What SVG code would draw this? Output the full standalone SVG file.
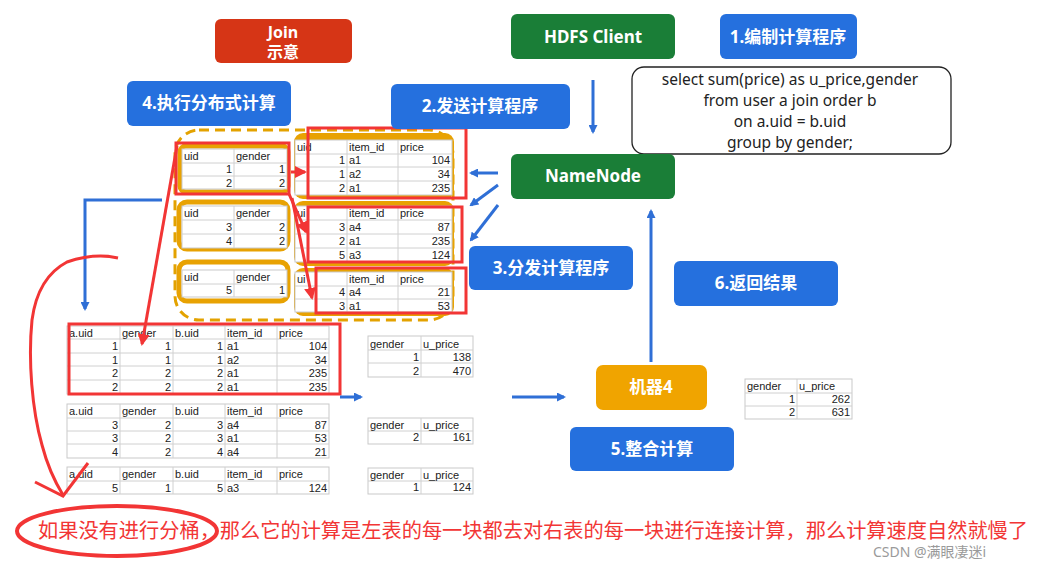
<svg xmlns="http://www.w3.org/2000/svg" width="1038" height="566" viewBox="0 0 1038 566">
<style>
.box{stroke:none}
.blue{fill:#2570de}
.green{fill:#1a7e37}
.bt{font-family:"Noto Sans","Noto Sans CJK SC",sans-serif;font-size:17px;font-weight:bold;fill:#fff;text-anchor:middle}
.tb{fill:#fff;stroke:#c9c9c9;stroke-width:1}
.tl{stroke:#d0d0d0;stroke-width:1}
.t{font-family:"Liberation Sans","Noto Sans CJK SC",sans-serif;font-size:11px;fill:#222}
.r{text-anchor:end}
.ob{fill:#fff;stroke:#e8a202;stroke-width:5}
.of{fill:#e8a202}
.redbox{fill:none;stroke:#f23535;stroke-width:3}
.barrow{stroke:#2f6fd6;stroke-width:3;fill:none}
.rarrow{stroke:#f23535;stroke-width:3;fill:none}
.sql{font-family:"Noto Sans","Liberation Sans",sans-serif;font-size:15.5px;fill:#222;text-anchor:middle}
</style>
<defs>
<marker id="ab" markerWidth="9" markerHeight="9" refX="7" refY="4.5" orient="auto" markerUnits="userSpaceOnUse" viewBox="0 0 9 9"><path d="M0,0 L9,4.5 L0,9 z" fill="#2f6fd6"/></marker>
<marker id="ar" markerWidth="12" markerHeight="12" refX="10" refY="6" orient="auto" markerUnits="userSpaceOnUse" viewBox="0 0 12 12"><path d="M0,0 L12,6 L0,12 z" fill="#f23535"/></marker>
</defs>
<rect width="1038" height="566" fill="#fff"/>

<!-- dashed group -->
<rect x="175" y="130" width="278" height="190" rx="24" fill="none" stroke="#e3a200" stroke-width="3" stroke-dasharray="10,6"/>

<!-- user tables -->
<g id="user1">
<rect class="ob" x="180" y="146" width="108" height="46" rx="6"/>
<rect class="tb" x="182" y="149" width="105" height="40"/>
<line class="tl" x1="182" y1="163" x2="287" y2="163"/><line class="tl" x1="182" y1="176" x2="287" y2="176"/><line class="tl" x1="234" y1="149" x2="234" y2="189"/>
<text class="t" x="184" y="160">uid</text><text class="t" x="236" y="160">gender</text>
<text class="t r" x="232" y="173">1</text><text class="t r" x="285" y="173">1</text>
<text class="t r" x="232" y="187">2</text><text class="t r" x="285" y="187">2</text>
</g>
<g id="user2">
<rect class="ob" x="179" y="202" width="109" height="47" rx="8"/>
<rect class="tb" x="182" y="206" width="105" height="42"/>
<line class="tl" x1="182" y1="220" x2="287" y2="220"/><line class="tl" x1="182" y1="234" x2="287" y2="234"/><line class="tl" x1="234" y1="206" x2="234" y2="248"/>
<text class="t" x="184" y="217">uid</text><text class="t" x="236" y="217">gender</text>
<text class="t r" x="232" y="231">3</text><text class="t r" x="285" y="231">2</text>
<text class="t r" x="232" y="245">4</text><text class="t r" x="285" y="245">2</text>
</g>
<g id="user3">
<rect class="ob" x="179" y="262" width="109" height="39" rx="8"/>
<rect class="tb" x="182" y="270" width="105" height="27"/>
<line class="tl" x1="182" y1="284" x2="287" y2="284"/><line class="tl" x1="234" y1="270" x2="234" y2="297"/>
<text class="t" x="184" y="281">uid</text><text class="t" x="236" y="281">gender</text>
<text class="t r" x="232" y="294">5</text><text class="t r" x="285" y="294">1</text>
</g>

<!-- order tables -->
<g id="order1">
<rect class="of" x="294" y="133" width="160" height="66" rx="9"/>
<rect class="tb" x="295" y="140" width="157" height="55"/>
<line class="tl" x1="295" y1="154" x2="452" y2="154"/><line class="tl" x1="295" y1="167" x2="452" y2="167"/><line class="tl" x1="295" y1="181" x2="452" y2="181"/>
<line class="tl" x1="347" y1="140" x2="347" y2="195"/><line class="tl" x1="398" y1="140" x2="398" y2="195"/>
<text class="t" x="297" y="151">uid</text><text class="t" x="349" y="151">item_id</text><text class="t" x="400" y="151">price</text>
<text class="t r" x="345" y="164">1</text><text class="t" x="349" y="164">a1</text><text class="t r" x="450" y="164">104</text>
<text class="t r" x="345" y="178">1</text><text class="t" x="349" y="178">a2</text><text class="t r" x="450" y="178">34</text>
<text class="t r" x="345" y="192">2</text><text class="t" x="349" y="192">a1</text><text class="t r" x="450" y="192">235</text>
</g>
<g id="order2">
<rect class="of" x="294" y="201" width="160" height="65" rx="9"/>
<rect class="tb" x="295" y="206" width="157" height="56"/>
<line class="tl" x1="295" y1="220" x2="452" y2="220"/><line class="tl" x1="295" y1="234" x2="452" y2="234"/><line class="tl" x1="295" y1="248" x2="452" y2="248"/>
<line class="tl" x1="347" y1="206" x2="347" y2="262"/><line class="tl" x1="398" y1="206" x2="398" y2="262"/>
<text class="t" x="297" y="217">ui</text><text class="t" x="349" y="217">item_id</text><text class="t" x="400" y="217">price</text>
<text class="t r" x="345" y="231">3</text><text class="t" x="349" y="231">a4</text><text class="t r" x="450" y="231">87</text>
<text class="t r" x="345" y="245">2</text><text class="t" x="349" y="245">a1</text><text class="t r" x="450" y="245">235</text>
<text class="t r" x="345" y="259">5</text><text class="t" x="349" y="259">a3</text><text class="t r" x="450" y="259">124</text>
</g>
<g id="order3">
<rect class="of" x="294" y="268" width="160" height="48" rx="9"/>
<rect class="tb" x="295" y="272" width="157" height="40"/>
<line class="tl" x1="295" y1="286" x2="452" y2="286"/><line class="tl" x1="295" y1="299" x2="452" y2="299"/>
<line class="tl" x1="347" y1="272" x2="347" y2="312"/><line class="tl" x1="398" y1="272" x2="398" y2="312"/>
<text class="t" x="297" y="283">ui</text><text class="t" x="349" y="283">item_id</text><text class="t" x="400" y="283">price</text>
<text class="t r" x="345" y="296">4</text><text class="t" x="349" y="296">a4</text><text class="t r" x="450" y="296">21</text>
<text class="t r" x="345" y="310">3</text><text class="t" x="349" y="310">a1</text><text class="t r" x="450" y="310">53</text>
</g>

<!-- joined tables -->
<g id="joinA">
<rect class="tb" x="67" y="326" width="262" height="68"/>
<line class="tl" x1="67" y1="339" x2="329" y2="339"/><line class="tl" x1="67" y1="353" x2="329" y2="353"/><line class="tl" x1="67" y1="366" x2="329" y2="366"/><line class="tl" x1="67" y1="380" x2="329" y2="380"/>
<line class="tl" x1="120" y1="326" x2="120" y2="394"/><line class="tl" x1="173" y1="326" x2="173" y2="394"/><line class="tl" x1="225" y1="326" x2="225" y2="394"/><line class="tl" x1="277" y1="326" x2="277" y2="394"/>
<text class="t" x="69" y="337">a.uid</text><text class="t" x="122" y="337">gender</text><text class="t" x="175" y="337">b.uid</text><text class="t" x="227" y="337">item_id</text><text class="t" x="279" y="337">price</text>
<text class="t r" x="118" y="350">1</text><text class="t r" x="171" y="350">1</text><text class="t r" x="223" y="350">1</text><text class="t" x="227" y="350">a1</text><text class="t r" x="327" y="350">104</text>
<text class="t r" x="118" y="364">1</text><text class="t r" x="171" y="364">1</text><text class="t r" x="223" y="364">1</text><text class="t" x="227" y="364">a2</text><text class="t r" x="327" y="364">34</text>
<text class="t r" x="118" y="377">2</text><text class="t r" x="171" y="377">2</text><text class="t r" x="223" y="377">2</text><text class="t" x="227" y="377">a1</text><text class="t r" x="327" y="377">235</text>
<text class="t r" x="118" y="391">2</text><text class="t r" x="171" y="391">2</text><text class="t r" x="223" y="391">2</text><text class="t" x="227" y="391">a1</text><text class="t r" x="327" y="391">235</text>
</g>
<g id="joinB">
<rect class="tb" x="67" y="404" width="262" height="54"/>
<line class="tl" x1="67" y1="418" x2="329" y2="418"/><line class="tl" x1="67" y1="431" x2="329" y2="431"/><line class="tl" x1="67" y1="444" x2="329" y2="444"/>
<line class="tl" x1="120" y1="404" x2="120" y2="458"/><line class="tl" x1="173" y1="404" x2="173" y2="458"/><line class="tl" x1="225" y1="404" x2="225" y2="458"/><line class="tl" x1="277" y1="404" x2="277" y2="458"/>
<text class="t" x="69" y="415">a.uid</text><text class="t" x="122" y="415">gender</text><text class="t" x="175" y="415">b.uid</text><text class="t" x="227" y="415">item_id</text><text class="t" x="279" y="415">price</text>
<text class="t r" x="118" y="429">3</text><text class="t r" x="171" y="429">2</text><text class="t r" x="223" y="429">3</text><text class="t" x="227" y="429">a4</text><text class="t r" x="327" y="429">87</text>
<text class="t r" x="118" y="442">3</text><text class="t r" x="171" y="442">2</text><text class="t r" x="223" y="442">3</text><text class="t" x="227" y="442">a1</text><text class="t r" x="327" y="442">53</text>
<text class="t r" x="118" y="456">4</text><text class="t r" x="171" y="456">2</text><text class="t r" x="223" y="456">4</text><text class="t" x="227" y="456">a4</text><text class="t r" x="327" y="456">21</text>
</g>
<g id="joinC">
<rect class="tb" x="67" y="467" width="262" height="27"/>
<line class="tl" x1="67" y1="481" x2="329" y2="481"/>
<line class="tl" x1="120" y1="467" x2="120" y2="494"/><line class="tl" x1="173" y1="467" x2="173" y2="494"/><line class="tl" x1="225" y1="467" x2="225" y2="494"/><line class="tl" x1="277" y1="467" x2="277" y2="494"/>
<text class="t" x="69" y="478">a.uid</text><text class="t" x="122" y="478">gender</text><text class="t" x="175" y="478">b.uid</text><text class="t" x="227" y="478">item_id</text><text class="t" x="279" y="478">price</text>
<text class="t r" x="118" y="492">5</text><text class="t r" x="171" y="492">1</text><text class="t r" x="223" y="492">5</text><text class="t" x="227" y="492">a3</text><text class="t r" x="327" y="492">124</text>
</g>

<!-- gender sums -->
<g id="sum1">
<rect class="tb" x="368" y="336" width="105" height="41"/>
<line class="tl" x1="368" y1="350" x2="473" y2="350"/><line class="tl" x1="368" y1="363" x2="473" y2="363"/><line class="tl" x1="421" y1="336" x2="421" y2="377"/>
<text class="t" x="370" y="348">gender</text><text class="t" x="423" y="348">u_price</text>
<text class="t r" x="419" y="361">1</text><text class="t r" x="471" y="361">138</text>
<text class="t r" x="419" y="375">2</text><text class="t r" x="471" y="375">470</text>
</g>
<g id="sum2">
<rect class="tb" x="368" y="418" width="105" height="26"/>
<line class="tl" x1="368" y1="431" x2="473" y2="431"/><line class="tl" x1="421" y1="418" x2="421" y2="444"/>
<text class="t" x="370" y="429">gender</text><text class="t" x="423" y="429">u_price</text>
<text class="t r" x="419" y="441">2</text><text class="t r" x="471" y="441">161</text>
</g>
<g id="sum3">
<rect class="tb" x="368" y="468" width="105" height="26"/>
<line class="tl" x1="368" y1="481" x2="473" y2="481"/><line class="tl" x1="421" y1="468" x2="421" y2="494"/>
<text class="t" x="370" y="479">gender</text><text class="t" x="423" y="479">u_price</text>
<text class="t r" x="419" y="491">1</text><text class="t r" x="471" y="491">124</text>
</g>
<g id="result">
<rect class="tb" x="745" y="379" width="107" height="40"/>
<line class="tl" x1="745" y1="393" x2="852" y2="393"/><line class="tl" x1="745" y1="406" x2="852" y2="406"/><line class="tl" x1="797" y1="379" x2="797" y2="419"/>
<text class="t" x="747" y="390">gender</text><text class="t" x="799" y="390">u_price</text>
<text class="t r" x="795" y="403">1</text><text class="t r" x="850" y="403">262</text>
<text class="t r" x="795" y="416">2</text><text class="t r" x="850" y="416">631</text>
</g>

<!-- red highlight boxes -->
<g id="highlights">
<rect class="redbox" x="176" y="143" width="113" height="51"/>
<rect class="redbox" x="308" y="128" width="158" height="70"/>
<rect class="redbox" x="308" y="207" width="154" height="55"/>
<rect class="redbox" x="316" y="268" width="150" height="45"/>
<rect class="redbox" x="69" y="324" width="271" height="70"/>
</g>

<!-- nodes -->
<g id="join"><rect x="215" y="19" width="137" height="44" rx="6" fill="#d63516"/><text class="bt" x="283" y="38" style="font-size:16px">Join</text><text class="bt" x="283" y="58" style="font-size:16px">示意</text></g>
<g id="hdfs"><rect class="green" x="511" y="14" width="164" height="45" rx="6"/><text class="bt" x="593" y="43">HDFS Client</text></g>
<g id="step1"><rect class="blue" x="720" y="14" width="137" height="45" rx="6"/><text class="bt" x="788" y="43">1.编制计算程序</text></g>
<g id="sql"><rect x="632" y="67" width="319" height="87" rx="12" fill="#fff" stroke="#222" stroke-width="1.3"/>
<text class="sql" x="790" y="85">select sum(price) as u_price,gender</text>
<text class="sql" x="790" y="106">from user a join order b</text>
<text class="sql" x="790" y="127">on a.uid = b.uid</text>
<text class="sql" x="790" y="148">group by gender;</text></g>
<g id="step4"><rect class="blue" x="127" y="81" width="164" height="45" rx="6"/><text class="bt" x="209" y="109">4.执行分布式计算</text></g>
<g id="step2"><rect class="blue" x="391" y="84" width="179" height="45" rx="6"/><text class="bt" x="480" y="112">2.发送计算程序</text></g>
<g id="namenode"><rect class="green" x="511" y="154" width="164" height="45" rx="6"/><text class="bt" x="593" y="182">NameNode</text></g>
<g id="step3"><rect class="blue" x="469" y="246" width="164" height="44" rx="6"/><text class="bt" x="551" y="274">3.分发计算程序</text></g>
<g id="step6"><rect class="blue" x="674" y="261" width="164" height="45" rx="6"/><text class="bt" x="756" y="289">6.返回结果</text></g>
<g id="machine4"><rect x="596" y="365" width="111" height="45" rx="7" fill="#f0a400"/><text class="bt" x="651" y="393">机器4</text></g>
<g id="step5"><rect class="blue" x="570" y="427" width="164" height="44" rx="6"/><text class="bt" x="652" y="455">5.整合计算</text></g>

<!-- connectors -->
<g id="connectors">
<line class="barrow" x1="593" y1="80" x2="593" y2="132" marker-end="url(#ab)"/>
<line class="barrow" x1="498" y1="173" x2="471" y2="173" marker-end="url(#ab)"/>
<line class="barrow" x1="498" y1="185" x2="471" y2="205" marker-end="url(#ab)"/>
<line class="barrow" x1="498" y1="205" x2="471" y2="240" marker-end="url(#ab)"/>
<line class="barrow" x1="651" y1="362" x2="651" y2="211" marker-end="url(#ab)"/>
<line class="barrow" x1="512" y1="397" x2="564" y2="397" marker-end="url(#ab)"/>
<line class="barrow" x1="340" y1="397" x2="361" y2="397" marker-end="url(#ab)"/>
<polyline class="barrow" points="162,200 85,200 85,309" marker-end="url(#ab)"/>
<line class="rarrow" x1="291" y1="172" x2="305" y2="172" marker-end="url(#ar)"/>
<line class="rarrow" x1="289" y1="194" x2="306" y2="232" marker-end="url(#ar)"/>
<line class="rarrow" x1="292" y1="198" x2="312" y2="298" marker-end="url(#ar)"/>
<line class="rarrow" x1="177" y1="146" x2="142" y2="344" marker-end="url(#ar)"/>
<path class="rarrow" d="M118,258 C100,254 85,256 67,262 C48,272 36,290 32,320 C28,360 32,410 42,445 C48,468 55,482 63,495" stroke-width="2.5"/>
<path class="rarrow" d="M35,482 L63,496 L88,463" stroke-width="2.5"/>
</g>

<ellipse cx="117" cy="531" rx="100" ry="25" fill="none" stroke="#f23535" stroke-width="4"/>
<text x="38" y="538" textLength="990" lengthAdjust="spacingAndGlyphs" style="font-family:'Noto Sans CJK SC',sans-serif;font-size:20px;fill:#f23535">如果没有进行分桶，那么它的计算是左表的每一块都去对右表的每一块进行连接计算，那么计算速度自然就慢了</text>
<text x="873" y="557" style="font-family:'Noto Sans','Noto Sans CJK SC',sans-serif;font-size:14px;fill:#9a9a9a">CSDN @满眼凄迷i</text>
</svg>
